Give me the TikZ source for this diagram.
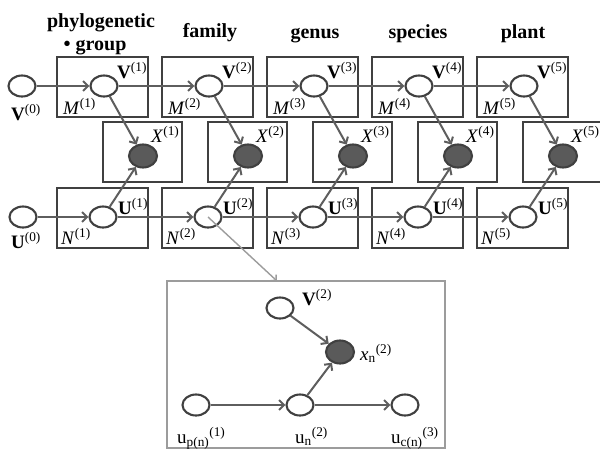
\documentclass[tikz,border=0pt]{standalone}
\usepackage{fontspec}
\setmainfont{Liberation Serif}
\usetikzlibrary{shapes.geometric,arrows.meta}
\definecolor{plateline}{HTML}{404040}
\definecolor{edgegray}{HTML}{5E5E5E}
\definecolor{obsfill}{HTML}{5A5A5A}
\definecolor{zoomgray}{HTML}{9C9C9C}
\tikzset{
  lbl/.style={font=\fontsize{19}{21}\selectfont, inner sep=0pt, anchor=base west},
  hdr/.style={font=\fontsize{20}{22}\selectfont\bfseries, inner sep=0pt, anchor=base},
  plate/.style={rectangle, draw=plateline, line width=2.6pt, inner sep=0pt,
                minimum width=91pt, minimum height=60pt},
  obsplate/.style={plate, minimum width=79pt},
  latent/.style={ellipse, draw=plateline, line width=2.1pt, fill=white,
                 minimum width=27pt, minimum height=21pt, inner sep=0pt},
  observed/.style={latent, fill=obsfill, minimum width=28pt, minimum height=23pt},
  arr/.style={draw=edgegray, line width=2pt, -{Straight Barb[length=5pt,width=10pt]}},
  pointer/.style={draw=zoomgray, line width=1.4pt, -{Straight Barb[length=4pt,width=8pt]}},
}
\begin{document}
\begin{tikzpicture}[x=1pt, y=-1pt]
\useasboundingbox (0,0) rectangle (600,451);

% level headers
\node[hdr] (h1) at (101,27) {phylogenetic};
\node[hdr] (h1b) at (95,50) {\textbullet\ group};
\node[hdr] (h2) at (210,37) {family};
\node[hdr] (h3) at (315,38) {genus};
\node[hdr] (h4) at (418,38) {species};
\node[hdr] (h5) at (523,38) {plant};

% root variables
\node[latent] (V0) at (22,86) {};
\node[lbl] (lV0) at (11,120) {\textbf{V}\textsuperscript{(0)}};
\node[latent] (U0) at (23,217) {};
\node[lbl] (lU0) at (11,248) {\textbf{U}\textsuperscript{(0)}};

% one column of plates per level
\foreach \k in {1,...,5} {
  \pgfmathsetmacro\dx{105*(\k-1)}
  \node[plate] (Mp\k) at ({102.5+\dx},87) {};
  \node[obsplate] (Xp\k) at ({142.5+\dx},152) {};
  \node[plate] (Np\k) at ({102.5+\dx},218) {};
  \node[latent] (V\k) at ({104+\dx},86) {};
  \node[observed] (X\k) at ({143+\dx},156) {};
  \node[latent] (U\k) at ({103+\dx},217) {};
  \node[lbl] (lV\k) at ({117+\dx},78) {\textbf{V}\textsuperscript{(\k)}};
  \node[lbl] (lM\k) at ({63+\dx},114) {\textit{M}\textsuperscript{(\k)}};
  \node[lbl] (lX\k) at ({151+\dx},142) {\textit{X}\textsuperscript{(\k)}};
  \node[lbl] (lU\k) at ({118+\dx},214) {\textbf{U}\textsuperscript{(\k)}};
  \node[lbl] (lN\k) at ({61+\dx},244) {\textit{N}\textsuperscript{(\k)}};
}

% chain and emission edges
\foreach \a/\b in {0/1,1/2,2/3,3/4,4/5} {
  \draw[arr] (V\a) -- (V\b);
  \draw[arr] (U\a) -- (U\b);
}
\foreach \k in {1,...,5} {
  \draw[arr] (V\k) -- (X\k);
  \draw[arr] (U\k) -- (X\k);
}

% detail of one node at the family level
\node[rectangle, draw=zoomgray, line width=2pt, minimum width=278pt,
      minimum height=167pt, inner sep=0pt] (zoombox) at (306,364.5) {};
\coordinate (ztip) at (277,281);
\draw[pointer] (U2.center) -- (ztip);

\node[latent] (zv) at (280,308) {};
\node[observed] (zx) at (340,352) {};
\node[latent] (zup) at (196,405) {};
\node[latent] (zun) at (300,405) {};
\node[latent] (zuc) at (405,405) {};
\node[lbl] (lzv) at (302,305) {\textbf{V}\textsuperscript{(2)}};
\node[lbl] (lzx) at (360,360) {\textit{x}\textsubscript{n}\textsuperscript{(2)}};
\node[lbl] (lzup) at (177,443) {u\textsubscript{p(n)}\textsuperscript{(1)}};
\node[lbl] (lzun) at (295,443) {u\textsubscript{n}\textsuperscript{(2)}};
\node[lbl] (lzuc) at (391,443) {u\textsubscript{c(n)}\textsuperscript{(3)}};

\draw[arr] (zv) -- (zx);
\draw[arr] (zun) -- (zx);
\draw[arr] (zup) -- (zun);
\draw[arr] (zun) -- (zuc);
\end{tikzpicture}
\end{document}
